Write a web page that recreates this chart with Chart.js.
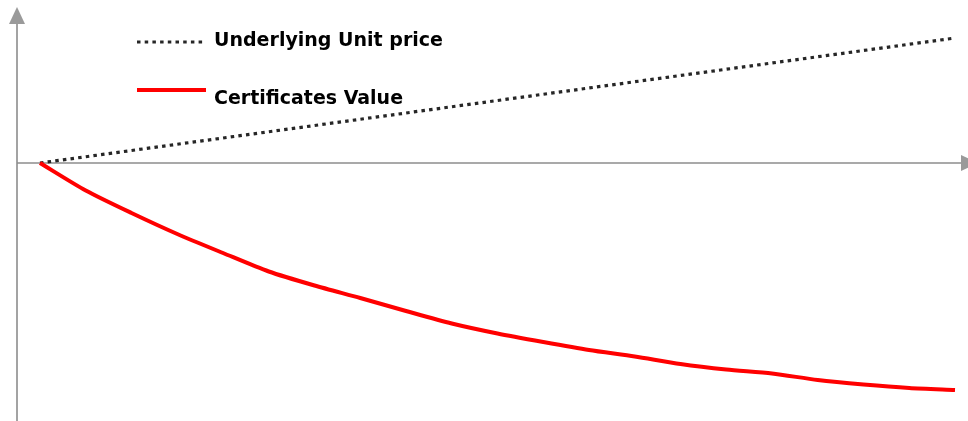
<!DOCTYPE html>
<html lang="en">
<head>
    <meta charset="UTF-8">
    <title>Underlying Unit price vs Certificates Value</title>
    <script src="https://cdn.jsdelivr.net/npm/chart.js"></script>
    <style>
        html, body { margin: 0; padding: 0; background: #fff; }
        #chartBox { width: 968px; height: 421px; }
    </style>
</head>
<body>
    <div id="chartBox">
        <canvas id="payoffChart" width="968" height="421"></canvas>
    </div>

    <script>
        // time steps along the x axis (no tick labels shown)
        const steps = [0, 1, 2, 3, 4, 5, 6, 7, 8, 9, 10, 11, 12, 13, 14, 15, 16, 17, 18, 19, 20];

        const seriesNames = ['Underlying Unit price', 'Certificates Value'];

        // 0 = the horizontal axis
        const underlyingPrice = [0, 5, 10, 15, 20, 25, 30, 35, 40, 45, 50, 55, 60, 65, 70, 75, 80, 85, 90, 95, 100];
        const certificateValue = [0, -22, -40, -56.8, -72, -86.8, -98, -108, -118.4, -128.4, -136.4,
            -143.2, -149.6, -154.8, -160.8, -165.2, -168.4, -173.6, -177.2, -180, -181.6];

        const toPoints = vals => vals.map((v, i) => ({ x: steps[i], y: v }));

        // draws the two grey arrowed axes through the zero of each scale
        const arrowAxes = {
            id: 'arrowAxes',
            beforeDatasetsDraw(chart) {
                const { ctx, chartArea, scales } = chart;
                const ax = chartArea.left;
                const ay = scales.y.getPixelForValue(0);
                ctx.save();

                // vertical axis
                ctx.strokeStyle = '#a3a3a3';
                ctx.lineWidth = 2;
                ctx.beginPath();
                ctx.moveTo(ax, chartArea.bottom);
                ctx.lineTo(ax, chartArea.top + 12);
                ctx.stroke();
                ctx.fillStyle = '#9a9a9a';
                ctx.beginPath();
                ctx.moveTo(ax, chartArea.top - 1);
                ctx.lineTo(ax - 8, chartArea.top + 16);
                ctx.lineTo(ax + 8, chartArea.top + 16);
                ctx.closePath();
                ctx.fill();

                // horizontal axis
                ctx.strokeStyle = '#8c8c8c';
                ctx.lineWidth = 1.5;
                ctx.beginPath();
                ctx.moveTo(ax, ay);
                ctx.lineTo(chartArea.right - 6, ay);
                ctx.stroke();
                ctx.fillStyle = '#9a9a9a';
                ctx.beginPath();
                ctx.moveTo(chartArea.right + 10, ay);
                ctx.lineTo(chartArea.right - 7, ay - 8);
                ctx.lineTo(chartArea.right - 7, ay + 8);
                ctx.closePath();
                ctx.fill();

                ctx.restore();
            }
        };

        // legend in the upper left, sample line + bold squeezed label
        const sampleLegend = {
            id: 'sampleLegend',
            afterDraw(chart) {
                const { ctx } = chart;
                const rows = [
                    { y: 42, textY: 41, width: 229 },
                    { y: 90, textY: 99, width: 189 }
                ];
                ctx.save();
                chart.data.datasets.forEach((ds, i) => {
                    const r = rows[i];
                    ctx.strokeStyle = ds.borderColor;
                    ctx.lineWidth = ds.borderWidth;
                    ctx.setLineDash(ds.borderDash || []);
                    ctx.beginPath();
                    ctx.moveTo(137, r.y);
                    ctx.lineTo(206, r.y);
                    ctx.stroke();
                    ctx.setLineDash([]);

                    ctx.fillStyle = '#000';
                    ctx.font = 'bold 20px "DejaVu Sans", sans-serif';
                    ctx.textBaseline = 'middle';
                    ctx.textAlign = 'left';
                    ctx.fillText(ds.label, 214, r.textY, r.width);
                });
                ctx.restore();
            }
        };

        const ctx = document.getElementById('payoffChart').getContext('2d');
        new Chart(ctx, {
            type: 'line',
            data: {
                datasets: [
                    {
                        label: seriesNames[0],
                        data: toPoints(underlyingPrice),
                        borderColor: '#262626',
                        borderWidth: 3.2,
                        borderDash: [3.5, 4.2],
                        pointRadius: 0,
                        tension: 0,
                        order: 2
                    },
                    {
                        label: seriesNames[1],
                        data: toPoints(certificateValue),
                        borderColor: '#ff0000',
                        borderWidth: 4,
                        pointRadius: 0,
                        tension: 0.25,
                        order: 1
                    }
                ]
            },
            options: {
                responsive: false,
                animation: false,
                devicePixelRatio: 1,
                layout: { padding: { left: 17, top: 8, right: 0, bottom: 0 } },
                plugins: {
                    legend: { display: false },
                    tooltip: { enabled: false }
                },
                scales: {
                    x: { type: 'linear', display: false, min: -0.5027, max: 20.284 },
                    y: { display: false, min: -206.4, max: 124 }
                }
            },
            plugins: [arrowAxes, sampleLegend]
        });
    </script>
</body>
</html>
